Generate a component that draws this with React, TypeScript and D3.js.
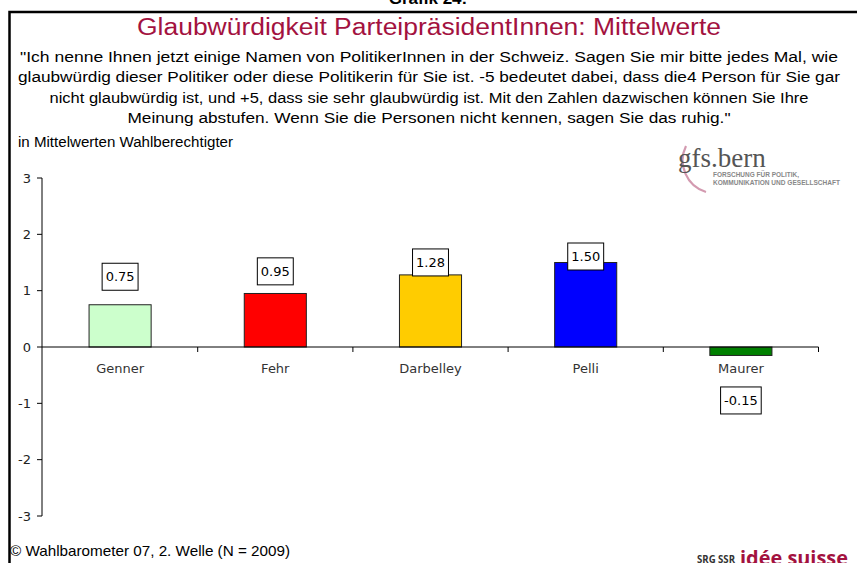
import React from "react";
import * as d3 from "d3";

// chart data
const names = ["Genner", "Fehr", "Darbelley", "Pelli", "Maurer"];
const values = [0.75, 0.95, 1.28, 1.5, -0.15];
const barColors = ["#CCFFCC", "#FF0000", "#FFCC00", "#0000FF", "#008000"];
const yTicks = [-3, -2, -1, 0, 1, 2, 3];

const quoteLines = [
  "\"Ich nenne Ihnen jetzt einige Namen von PolitikerInnen in der Schweiz. Sagen Sie mir bitte jedes Mal, wie",
  "glaubwürdig dieser Politiker oder diese Politikerin für Sie ist. -5 bedeutet dabei, dass die4 Person für Sie gar",
  "nicht glaubwürdig ist, und +5, dass sie sehr glaubwürdig ist. Mit den Zahlen dazwischen können Sie Ihre",
  "Meinung abstufen. Wenn Sie die Personen nicht kennen, sagen Sie das ruhig.\"",
];
// widths the lines take in the reference
const quoteWidths = [818, 822, 759, 603];

const W = 857;
const H = 563;
const crimson = "#A3123F";
const labelFont = "'DejaVu Sans', Verdana, sans-serif";
const textFont = "'Liberation Sans', Arial, sans-serif";

// rough width of a value label in DejaVu Sans 13px
const labelWidth = (s: string) =>
  d3.sum(s.split(""), (c) => (c === "." ? 4.13 : c === "-" ? 4.69 : 8.27));

const App = () => {
  const x = d3.scaleBand().domain(names).range([42.5, 818.5]).padding(0);
  const y = d3.scaleLinear().domain([-3, 3]).range([516, 178]);
  const barW = x.bandwidth() * 0.4;
  const y0 = y(0);

  return (
    <svg
      width={W}
      height={H}
      style={{ position: "absolute", left: 0, top: 0, background: "#fff" }}
    >
      <rect width={W} height={H} fill="#fff" />

      {/* header */}
      <text x={428} y={4} textAnchor="middle" fontFamily={textFont} fontWeight="bold" fontSize={17}>
        Grafik 24:
      </text>
      <path d={`M9.5,${H} V12 H${W}`} fill="none" stroke="#000" strokeWidth={2.5} />

      <text
        x={429}
        y={35}
        textAnchor="middle"
        fontFamily={textFont}
        fontSize={23}
        fill={crimson}
        textLength={584}
        lengthAdjust="spacingAndGlyphs"
      >
        Glaubwürdigkeit ParteipräsidentInnen: Mittelwerte
      </text>
      {quoteLines.map((line, i) => (
        <text
          key={i}
          x={429}
          y={62 + i * 20.3}
          textAnchor="middle"
          fontFamily={textFont}
          fontSize={15.5}
          fill="#000"
          textLength={quoteWidths[i]}
          lengthAdjust="spacingAndGlyphs"
        >
          {line}
        </text>
      ))}
      <text
        x={18}
        y={147}
        fontFamily={textFont}
        fontSize={14}
        fill="#000"
        textLength={215}
        lengthAdjust="spacingAndGlyphs"
      >
        in Mittelwerten Wahlberechtigter
      </text>

      {/* gfs.bern logo */}
      <path d="M686,146 A33,33 0 0 0 706,192" fill="none" stroke="#D39AB0" strokeWidth={2.2} />
      <text x={678} y={167} fontFamily="'Liberation Serif', serif" fontSize={27} fill="#555">
        gfs.bern
      </text>
      <text x={713} y={177} fontFamily={textFont} fontWeight="bold" fontSize={6.3} fill="#888" textLength={86} lengthAdjust="spacingAndGlyphs">
        FORSCHUNG FÜR POLITIK,
      </text>
      <text x={713} y={185} fontFamily={textFont} fontWeight="bold" fontSize={6.3} fill="#888" textLength={127} lengthAdjust="spacingAndGlyphs">
        KOMMUNIKATION UND GESELLSCHAFT
      </text>

      {/* y axis */}
      <line x1={42} x2={42} y1={y(3)} y2={y(-3)} stroke="#000" />
      {yTicks.map((t) => (
        <g key={t} transform={`translate(0,${y(t)})`}>
          <line x1={37} x2={42} stroke="#000" />
          <text x={31} dy="0.35em" textAnchor="end" fontFamily={labelFont} fontSize={13} fill="#222">
            {t}
          </text>
        </g>
      ))}

      {/* bars */}
      {names.map((n, i) => {
        const v = values[i];
        const cx = (x(n) ?? 0) + x.bandwidth() / 2;
        return (
          <rect
            key={n}
            x={cx - barW / 2}
            y={Math.min(y(v), y0)}
            width={barW}
            height={Math.abs(y(v) - y0)}
            fill={barColors[i]}
            stroke="#222"
            strokeWidth={1}
          />
        );
      })}

      {/* x axis */}
      <line x1={42} x2={818.5} y1={y0} y2={y0} stroke="#000" />
      {names.slice(1).map((n) => (
        <line key={n} x1={x(n)} x2={x(n)} y1={y0} y2={y0 + 5} stroke="#000" />
      ))}
      <line x1={818.5} x2={818.5} y1={y0} y2={y0 + 5} stroke="#000" />
      {names.map((n) => (
        <text
          key={n}
          x={(x(n) ?? 0) + x.bandwidth() / 2}
          y={y0 + 26}
          textAnchor="middle"
          fontFamily={labelFont}
          fontSize={13}
          fill="#333"
        >
          {n}
        </text>
      ))}

      {/* value labels */}
      {names.map((n, i) => {
        const v = values[i];
        const s = v.toFixed(2);
        const cx = (x(n) ?? 0) + x.bandwidth() / 2;
        const cy = v >= 0 ? y0 - 50 - 27 * v : y(v) + 45;
        const w = labelWidth(s) + 7;
        return (
          <g key={n} transform={`translate(${cx},${cy})`}>
            <rect x={-w / 2} y={-13.5} width={w} height={27} fill="#fff" stroke="#000" />
            <text dy="0.36em" textAnchor="middle" fontFamily={labelFont} fontSize={13} fill="#000">
              {s}
            </text>
          </g>
        );
      })}

      {/* footer */}
      <text
        x={10}
        y={556}
        fontFamily={textFont}
        fontSize={14.5}
        fill="#000"
        textLength={280}
        lengthAdjust="spacingAndGlyphs"
      >
        © Wahlbarometer 07, 2. Welle (N = 2009)
      </text>
      <text
        x={697}
        y={563}
        fontFamily="'Open Sans', sans-serif"
        fontWeight="bold"
        fontSize={10.5}
        fill="#333"
        textLength={38}
        lengthAdjust="spacingAndGlyphs"
      >
        SRG SSR
      </text>
      <text
        x={740}
        y={565}
        fontFamily="'Open Sans', sans-serif"
        fontWeight="bold"
        fontSize={20}
        fill={crimson}
        textLength={108}
        lengthAdjust="spacingAndGlyphs"
      >
        idée suisse
      </text>
    </svg>
  );
};

export default App;
